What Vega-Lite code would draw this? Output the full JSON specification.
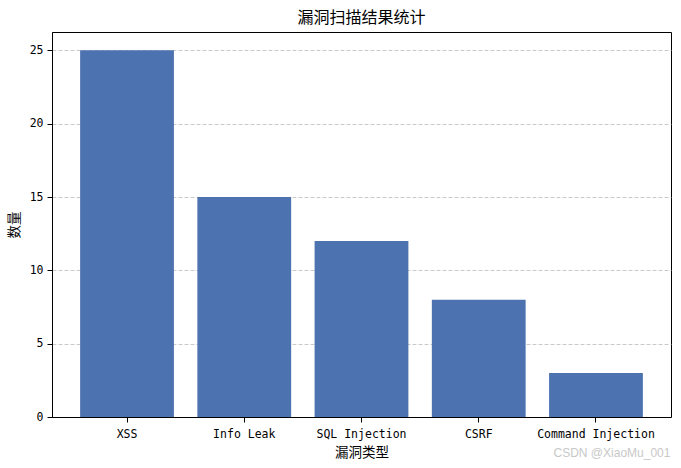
{
  "$schema": "https://vega.github.io/schema/vega-lite/v6.json",
  "width": 619,
  "height": 385,
  "autosize": {"type": "none"},
  "padding": {"left": 52, "top": 32, "right": 10, "bottom": 51},
  "background": "white",
  "title": {
    "text": "漏洞扫描结果统计",
    "font": "Noto Sans CJK SC",
    "fontSize": 16,
    "fontWeight": "normal",
    "color": "black",
    "offset": 6
  },
  "config": {
    "view": {"stroke": "black", "strokeWidth": 1},
    "axis": {
      "domainColor": "black",
      "tickColor": "black",
      "tickSize": 5,
      "labelColor": "black",
      "labelFont": "DejaVu Sans Mono",
      "labelFontSize": 11.5,
      "titleFont": "Noto Sans CJK SC",
      "titleFontSize": 13.5,
      "titleFontWeight": "normal",
      "titleColor": "black"
    }
  },
  "layer": [
    {
      "data": {
        "values": [
          {"type": "XSS", "count": 25},
          {"type": "Info Leak", "count": 15},
          {"type": "SQL Injection", "count": 12},
          {"type": "CSRF", "count": 8},
          {"type": "Command Injection", "count": 3}
        ]
      },
      "mark": {"type": "bar", "color": "#4C72B0"},
      "encoding": {
        "x": {
          "field": "type",
          "type": "nominal",
          "sort": null,
          "title": "漏洞类型",
          "scale": {"paddingInner": 0.2, "paddingOuter": 0.24},
          "axis": {"labelAngle": 0, "labelPadding": 6, "titlePadding": 6, "grid": false}
        },
        "y": {
          "field": "count",
          "type": "quantitative",
          "title": "数量",
          "scale": {"domain": [0, 26.25], "nice": false},
          "axis": {
            "values": [0, 5, 10, 15, 20, 25],
            "grid": true,
            "gridColor": "#bdbdbd",
            "gridDash": [4, 2],
            "gridWidth": 0.8,
            "labelPadding": 4,
            "titlePadding": 8
          }
        }
      }
    },
    {
      "data": {"values": [{"note": "CSDN @XiaoMu_001", "xpos": "Command Injection", "ypos": -2.45}]},
      "mark": {"type": "text", "color": "#c8c8c8", "font": "Liberation Sans", "fontSize": 12, "dx": 16, "baseline": "middle"},
      "encoding": {
        "text": {"field": "note"},
        "x": {"field": "xpos", "type": "nominal", "sort": null},
        "y": {"field": "ypos", "type": "quantitative"}
      }
    }
  ]
}
